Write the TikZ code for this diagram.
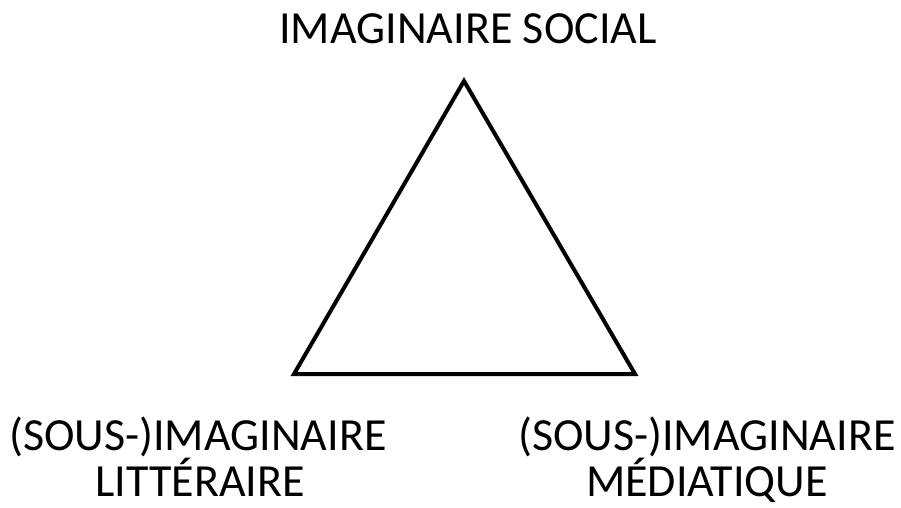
\documentclass[tikz,border=0pt]{standalone}
\usepackage{fontspec}
\setmainfont{Carlito}
\begin{document}
\begin{tikzpicture}[x=1pt,y=-1pt,
  lbl/.style={inner sep=0pt,align=center,font=\fontsize{46}{50}\selectfont},
  tri/.style={draw=black,line width=4pt,line join=miter}]
\useasboundingbox (0,0) rectangle (901,507);
\coordinate (A) at (464,81);
\coordinate (B) at (294,374);
\coordinate (C) at (635,374);
\draw[tri] (A) -- (B) -- (C) -- cycle;
\node[lbl,anchor=base] (top) at (468,43) {IMAGINAIRE SOCIAL};
\node[lbl,anchor=base] (left1) at (198,450) {(SOUS-)IMAGINAIRE};
\node[lbl,anchor=base] (left2) at (200,496) {LITTÉRAIRE};
\node[lbl,anchor=base] (right1) at (707,450) {(SOUS-)IMAGINAIRE};
\node[lbl,anchor=base] (right2) at (707,496) {MÉDIATIQUE};
\end{tikzpicture}
\end{document}
